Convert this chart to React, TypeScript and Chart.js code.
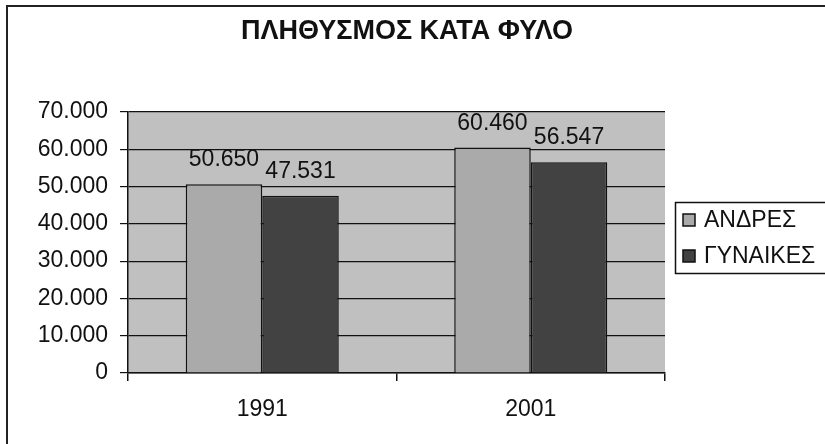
import React, { useEffect, useRef } from "react";
import { Chart, registerables } from "chart.js";

Chart.register(...registerables);

const TITLE = "ΠΛΗΘΥΣΜΟΣ ΚΑΤΑ ΦΥΛΟ";
const CATEGORIES = ["1991", "2001"];
const SERIES_NAMES = ["ΑΝΔΡΕΣ", "ΓΥΝΑΙΚΕΣ"];
const ANDRES = [50650, 60460];
const GYNAIKES = [47531, 56547];
const Y_MIN = 0;
const Y_MAX = 70000;
const Y_STEP = 10000;

const FONT = "'Liberation Sans', Arial, sans-serif";
const BG_PLOT = "#c0c0c0";
const COL_LIGHT = "#aaaaaa";
const COL_DARK = "#424242";

function fmt(v: number): string {
  return v.toLocaleString("de-DE");
}

const decorPlugin = {
  id: "decor",
  beforeDraw(chart: any) {
    const { ctx, chartArea } = chart;
    ctx.save();
    ctx.fillStyle = "#ffffff";
    ctx.fillRect(0, 0, chart.width, chart.height);
    // outer frame
    ctx.strokeStyle = "#222";
    ctx.lineWidth = 2;
    ctx.strokeRect(7, 6, chart.width + 20, chart.height + 20);
    // plot background
    ctx.fillStyle = BG_PLOT;
    ctx.fillRect(chartArea.left, chartArea.top, chartArea.right - chartArea.left, chartArea.bottom - chartArea.top);
    // title
    ctx.fillStyle = "#111";
    ctx.font = `bold 27px ${FONT}`;
    ctx.textAlign = "center";
    ctx.textBaseline = "middle";
    ctx.fillText(TITLE, 407, 32);
    ctx.restore();
  },
  afterDatasetsDraw(chart: any) {
    const { ctx } = chart;
    ctx.save();
    ctx.font = `23px ${FONT}`;
    ctx.fillStyle = "#111";
    ctx.textAlign = "center";
    ctx.textBaseline = "alphabetic";
    chart.data.datasets.forEach((ds: any, di: number) => {
      const meta = chart.getDatasetMeta(di);
      meta.data.forEach((bar: any, i: number) => {
        ctx.fillText(fmt(ds.data[i]), bar.x, bar.y - 18);
      });
    });
    // legend
    ctx.strokeStyle = "#111";
    ctx.lineWidth = 1.5;
    ctx.strokeRect(675.5, 202.5, 200, 71);
    const items = [
      { label: SERIES_NAMES[0], color: COL_LIGHT, y: 220 },
      { label: SERIES_NAMES[1], color: COL_DARK, y: 256 },
    ];
    ctx.font = `23px ${FONT}`;
    ctx.textAlign = "left";
    ctx.textBaseline = "middle";
    items.forEach((it) => {
      ctx.fillStyle = it.color;
      ctx.fillRect(683, it.y - 6, 12, 12);
      ctx.lineWidth = 1.5;
      ctx.strokeRect(683, it.y - 6, 12, 12);
      ctx.fillStyle = "#111";
      ctx.fillText(it.label, 704, it.y + 1);
    });
    ctx.restore();
  },
};

export default function App() {
  const ref = useRef<HTMLCanvasElement | null>(null);
  useEffect(() => {
    document.body.style.margin = "0";
    const canvas = ref.current;
    if (!canvas) return;
    const chart = new Chart(canvas, {
      type: "bar",
      data: {
        labels: CATEGORIES,
        datasets: [
          {
            label: SERIES_NAMES[0],
            data: ANDRES,
            backgroundColor: COL_LIGHT,
            borderColor: "#111",
            borderWidth: 1.5,
            categoryPercentage: 0.57,
            barPercentage: 1.0,
          },
          {
            label: SERIES_NAMES[1],
            data: GYNAIKES,
            backgroundColor: COL_DARK,
            borderColor: "#111",
            borderWidth: 1.5,
            categoryPercentage: 0.57,
            barPercentage: 1.0,
          },
        ],
      },
      options: {
        animation: false,
        responsive: false,
        devicePixelRatio: 1,
        layout: { padding: { left: 0, right: 160, top: 112, bottom: 11 } },
        plugins: {
          legend: { display: false },
          tooltip: { enabled: false },
          title: { display: false },
        },
        scales: {
          x: {
            offset: true,
            grid: {
              offset: true,
              drawOnChartArea: false,
              drawTicks: true,
              tickLength: 8,
              color: "#111",
              lineWidth: 1.5,
            },
            border: { display: true, color: "#111", width: 1.5 },
            ticks: {
              color: "#111",
              font: { family: FONT, size: 23 },
              padding: 15,
            },
            afterFit(scale: any) {
              scale.height = 60;
            },
          },
          y: {
            min: Y_MIN,
            max: Y_MAX,
            ticks: {
              stepSize: Y_STEP,
              color: "#111",
              font: { family: FONT, size: 23 },
              padding: 12,
              callback: (v: any) => fmt(Number(v)),
            },
            grid: {
              color: "#111",
              lineWidth: 1.2,
              drawTicks: true,
              tickLength: 8,
            },
            border: { display: true, color: "#111", width: 1.5 },
            afterFit(scale: any) {
              scale.width = 128;
            },
          },
        },
      },
      plugins: [decorPlugin],
    });
    return () => chart.destroy();
  }, []);
  return (
    <div style={{ position: "absolute", left: 0, top: 0, width: 825, height: 444 }}>
      <canvas ref={ref} width={825} height={444} style={{ width: 825, height: 444 }} />
    </div>
  );
}
